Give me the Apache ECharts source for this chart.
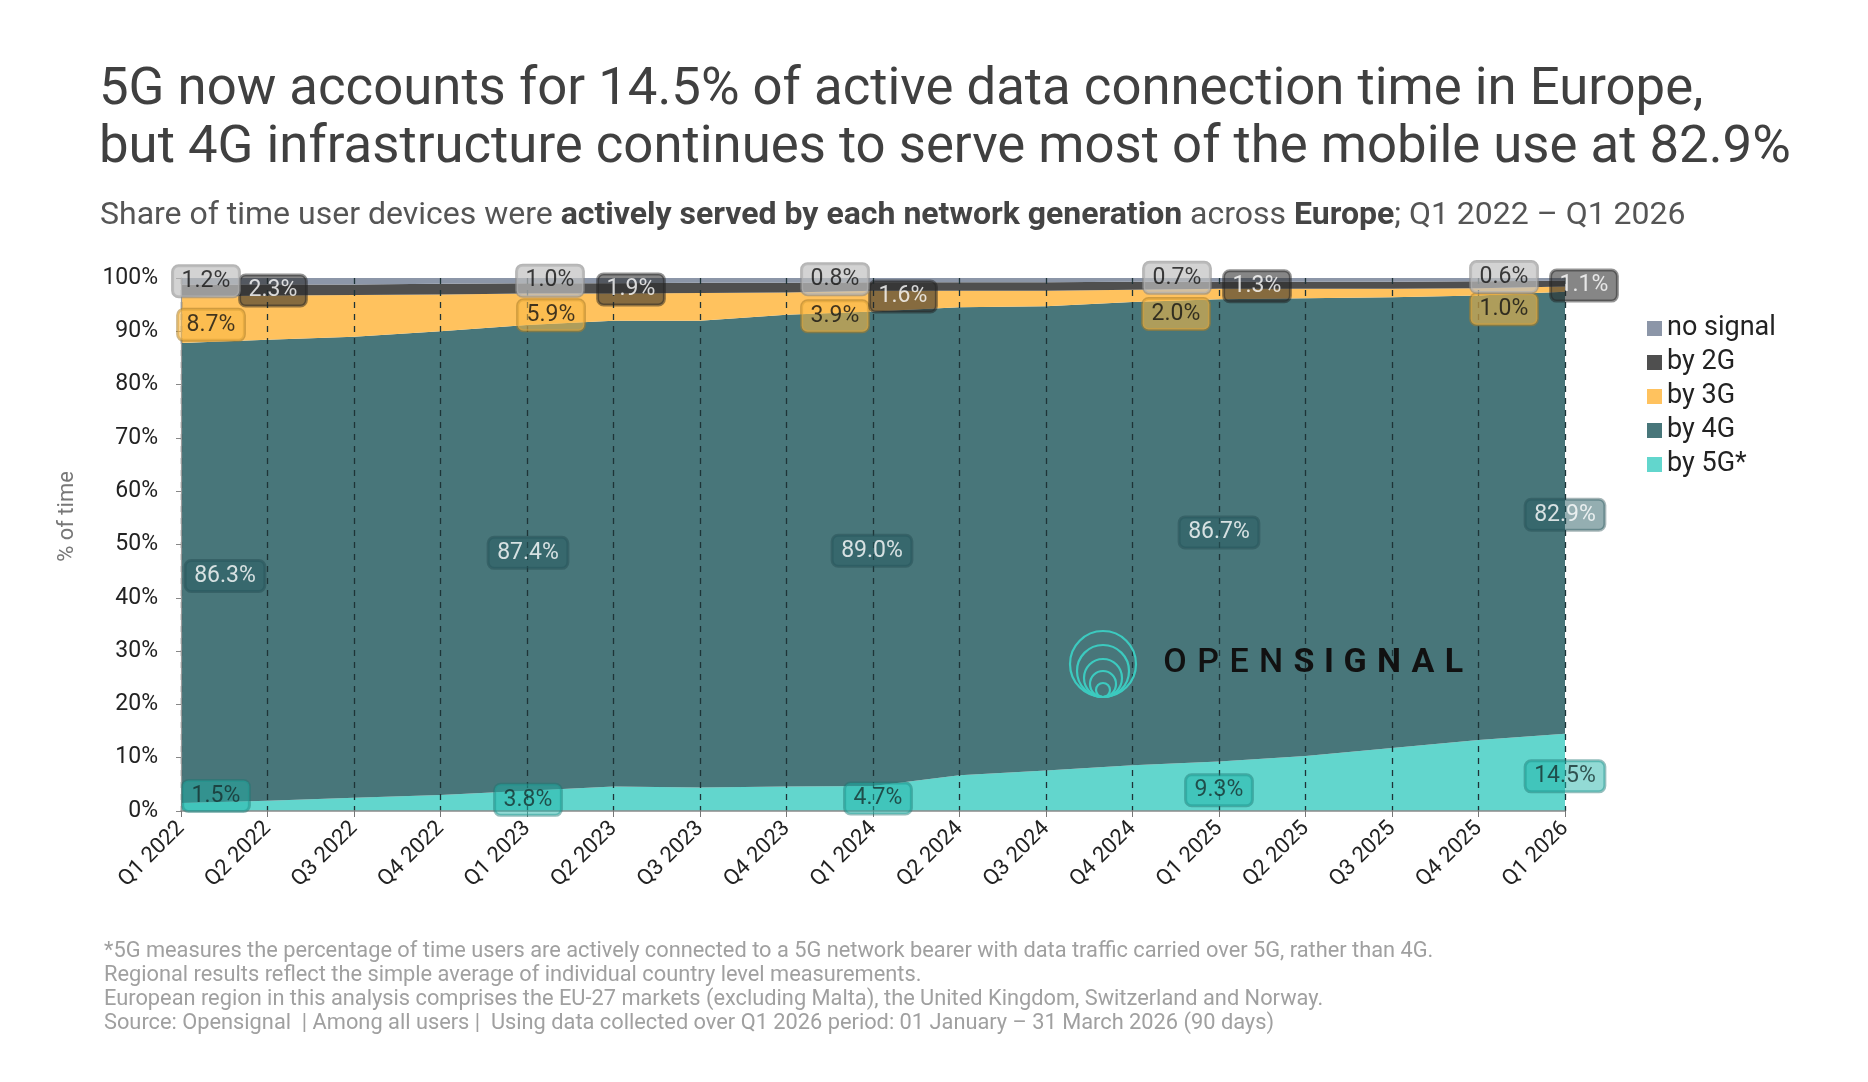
<!DOCTYPE html>
<html>
<head>
<meta charset="utf-8">
<script src="https://cdn.jsdelivr.net/npm/echarts@6/dist/echarts.min.js"></script>
<style>
html,body{margin:0;padding:0;background:#fff;}
#chart{width:1868px;height:1082px;}
</style>
</head>
<body>
<div id="chart"></div>
<script>
// ---------- DATA ----------
const categories = ['Q1 2022','Q2 2022','Q3 2022','Q4 2022','Q1 2023','Q2 2023','Q3 2023','Q4 2023',
  'Q1 2024','Q2 2024','Q3 2024','Q4 2024','Q1 2025','Q2 2025','Q3 2025','Q4 2025','Q1 2026'];
const by5G     = [1.5, 1.9, 2.5, 3.0, 3.8, 4.6, 4.4, 4.6, 4.7, 6.7, 7.6, 8.6, 9.3, 10.3, 11.8, 13.3, 14.5];
const by4G     = [86.3,86.5,86.5,87.0,87.4,87.4,87.6,88.5,89.0,87.8,87.1,86.9,86.7,85.9,84.6,83.4,82.9];
const by3G     = [8.7, 8.3, 7.8, 6.9, 5.9, 5.1, 5.2, 4.2, 3.9, 3.1, 2.9, 2.3, 2.0, 1.8, 1.6, 1.4, 1.0];
const by2G     = [2.3, 2.1, 2.0, 2.0, 1.9, 1.9, 1.9, 1.8, 1.6, 1.6, 1.6, 1.5, 1.3, 1.3, 1.3, 1.3, 1.1];
const noSignal = [1.2, 1.2, 1.2, 1.1, 1.0, 1.0, 0.9, 0.9, 0.8, 0.8, 0.8, 0.7, 0.7, 0.7, 0.7, 0.6, 0.6];
const yTicks   = [0,10,20,30,40,50,60,70,80,90,100];
const labelledQuarters = [0, 4, 8, 12, 16];

// ---------- STYLE / LAYOUT ----------
const FONT = 'Roboto';
const colors = { noSignal:'#8c96a8', by2G:'#4f4f4f', by3G:'#ffc25e', by4G:'#48767a', by5G:'#62d6cd' };
const G = { left:181, top:278, width:1384, height:533 };

// label offsets in px relative to the middle of each band, per labelled quarter
const labelOffsets = {
  noSignal: [[25,0],[23,0],[-38,-1],[-42,-2],[-61,-2]],
  by2G:     [[92,0],[104,1],[30,10],[38,1],[19,2]],
  by3G:     [[30,5],[24,6],[-38,15],[-43,20],[-61,20]],
  by4G:     [[44,3],[1,-5],[-1,2],[0,2],[0,2]],
  by5G:     [[35,-11],[1,-1],[5,0],[0,4],[0,4]]
};
const labelBoxes = {
  noSignal: { backgroundColor:'rgba(190,190,190,0.85)', borderColor:'rgba(140,140,140,0.8)', color:'#111' },
  by2G:     { backgroundColor:'rgba(40,40,40,0.7)',  borderColor:'rgba(30,30,30,0.6)', color:'#fff' },
  by3G:     { backgroundColor:'rgba(250,186,70,0.72)', borderColor:'rgba(170,125,40,0.7)', color:'#111' },
  by4G:     { backgroundColor:'rgba(38,92,97,0.62)', borderColor:'rgba(30,70,75,0.5)', color:'#fff' },
  by5G:     { backgroundColor:'rgba(30,178,168,0.6)', borderColor:'rgba(30,120,115,0.6)', color:'#16302e' }
};

const order = [
  { key:'by5G', name:'by 5G*', data:by5G },
  { key:'by4G', name:'by 4G', data:by4G },
  { key:'by3G', name:'by 3G', data:by3G },
  { key:'by2G', name:'by 2G', data:by2G },
  { key:'noSignal', name:'no signal', data:noSignal }
];

const areaSeries = order.map(s => ({
  name: s.name, type:'line', stack:'total', data:s.data,
  symbol:'none', showSymbol:false, smooth:false,
  color: colors[s.key],
  itemStyle:{ color: colors[s.key] },
  lineStyle:{ width:0 },
  areaStyle:{ color: colors[s.key], opacity:1 },
  z:2, silent:true
}));

// label points: middle of each stacked band
const labelData = [];
labelledQuarters.forEach((qi, k) => {
  let base = 0;
  order.forEach(s => {
    const v = s.data[qi];
    const mid = base + v/2;
    base += v;
    const box = labelBoxes[s.key];
    labelData.push({
      value:[qi, mid], raw:v,
      label:{
        show:true, position:'inside', offset:labelOffsets[s.key][k],
        formatter: p => p.data.raw.toFixed(1) + '%',
        fontFamily:FONT, fontSize:23, color:box.color,
        backgroundColor:box.backgroundColor, borderColor:box.borderColor, borderWidth:1.5,
        borderRadius:6, padding:[4,9]
      }
    });
  });
});

const labelSeries = {
  name:'labels', type:'scatter', data:labelData, symbolSize:1,
  itemStyle:{ color:'rgba(0,0,0,0)' }, z:10, silent:true
};

// logo
const logoCx = 1103, logoBottom = 697;
const radii = [33, 26, 19, 13, 7];
const logoCircles = radii.map(r => ({
  type:'circle', shape:{ cx:logoCx, cy:logoBottom - r, r:r },
  style:{ fill:'none', stroke:'#3ccabf', lineWidth:2.2 }, z:20, silent:true
}));
const logoLetters = 'OPENSIGNAL'.split('');
const letterX = [1175,1208,1239,1271,1304,1329,1355,1389,1423,1454];
const logoText = logoLetters.map((ch,i) => ({
  type:'text', x:letterX[i], y:663,
  style:{ text:ch, fill:'#111', font:(i>=4?'bold ':'500 ') + '34px ' + FONT,
          textAlign:'center', textVerticalAlign:'middle' }, z:20, silent:true
}));

const chart = echarts.init(document.getElementById('chart'), null, { renderer:'canvas' });
chart.setOption({
  backgroundColor:'#ffffff',
  animation:false,
  title:[
    { text:'5G now accounts for 14.5% of active data connection time in Europe,\nbut 4G infrastructure continues to serve most of the mobile use at 82.9%',
      left:99, top:62, padding:0,
      textStyle:{ fontFamily:FONT, fontSize:52.7, fontWeight:'normal', color:'#404040', lineHeight:58 } },
    { text:'Share of time user devices were {b|actively served by each network generation} across {b|Europe}; Q1 2022 – Q1 2026',
      left:100, top:198, padding:0,
      textStyle:{ fontFamily:FONT, fontSize:32, fontWeight:'normal', color:'#555', lineHeight:36,
        rich:{ b:{ fontFamily:FONT, fontSize:32, fontWeight:'bold', color:'#444' } } } },
    { text:'*5G measures the percentage of time users are actively connected to a 5G network bearer with data traffic carried over 5G, rather than 4G.\nRegional results reflect the simple average of individual country level measurements.\nEuropean region in this analysis comprises the EU-27 markets (excluding Malta), the United Kingdom, Switzerland and Norway.\nSource: Opensignal  | Among all users |  Using data collected over Q1 2026 period: 01 January – 31 March 2026 (90 days)',
      left:104, top:940, padding:0,
      textStyle:{ fontFamily:FONT, fontSize:21.8, fontWeight:'normal', color:'#a0a0a0', lineHeight:24 } }
  ],
  legend:{
    data:['no signal','by 2G','by 3G','by 4G','by 5G*'],
    orient:'vertical', left:1647, top:315, padding:0,
    icon:'rect', itemWidth:15, itemHeight:15, itemGap:7,
    textStyle:{ fontFamily:FONT, fontSize:27, color:'#222', lineHeight:26 },
    selectedMode:false
  },
  grid:{ left:G.left, top:G.top, width:G.width, height:G.height, containLabel:false },
  xAxis:{
    type:'category', data:categories, boundaryGap:false, z:3,
    axisLine:{ show:true, lineStyle:{ color:'#8a8a8a', width:1.5 } },
    axisTick:{ show:true, length:6, alignWithLabel:true, lineStyle:{ color:'#777' } },
    axisLabel:{ rotate:45, interval:0, margin:14, fontFamily:FONT, fontSize:22, color:'#222' },
    splitLine:{ show:true, interval:0, lineStyle:{ type:[6,6], color:'#1e3437', width:1.3 } }
  },
  yAxis:{
    type:'value', min:0, max:100, interval:10, z:3,
    name:'% of time', nameLocation:'middle', nameGap:103, nameRotate:90,
    nameTextStyle:{ fontFamily:FONT, fontSize:22, color:'#777', padding:[0,0,0,56] },
    axisLine:{ show:true, lineStyle:{ color:'#9a9a9a', width:1.2 } },
    axisTick:{ show:true, length:5, lineStyle:{ color:'#888' } },
    axisLabel:{ margin:23, fontFamily:FONT, fontSize:23, color:'#222',
      formatter: v => yTicks.indexOf(v) >= 0 ? v + '%' : '' },
    splitLine:{ show:false }
  },
  graphic: logoCircles.concat(logoText),
  series: areaSeries.concat([labelSeries])
});
</script>
</body>
</html>
